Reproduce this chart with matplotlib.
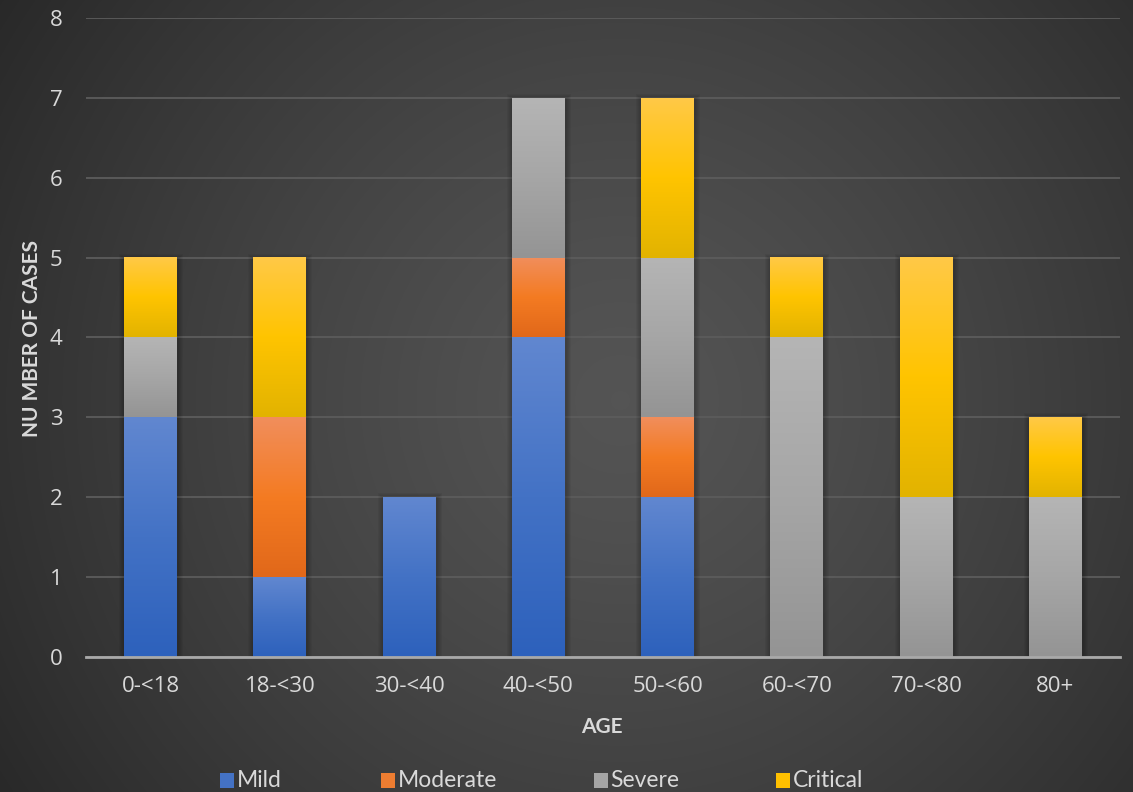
"""Stacked bar chart of case severity by age group on a dark radial background."""

import matplotlib

matplotlib.use("Agg")
import matplotlib.pyplot as plt
import numpy as np
from matplotlib.colors import LinearSegmentedColormap
from matplotlib.patches import Rectangle

AGE_GROUPS = ["0-<18", "18-<30", "30-<40", "40-<50", "50-<60", "60-<70", "70-<80", "80+"]
MILD = [3, 1, 2, 4, 2, 0, 0, 0]
MODERATE = [0, 2, 0, 1, 1, 0, 0, 0]
SEVERE = [1, 0, 0, 2, 2, 4, 2, 2]
CRITICAL = [1, 2, 0, 0, 2, 1, 3, 1]
SEVERITY = ["Mild", "Moderate", "Severe", "Critical"]
Y_TICKS = list(range(0, 9))

# bottom / middle / top colour of each segment's vertical gradient
GRADIENTS = {
    "Mild": ["#2d61bc", "#4372c5", "#6187d0"],
    "Moderate": ["#e1681a", "#f47b22", "#f18e5c"],
    "Severe": ["#949494", "#a6a6a6", "#b5b5b5"],
    "Critical": ["#e2b300", "#ffc400", "#ffc947"],
}
LEGEND_COLORS = {"Mild": "#4472c4", "Moderate": "#ed7d31", "Severe": "#a5a5a5", "Critical": "#ffc000"}

TEXT = "#d9d9d9"
BAR_WIDTH = 0.41

plt.rcParams["font.family"] = ["Lato", "DejaVu Sans"]

fig = plt.figure(figsize=(11.33, 7.92), dpi=100)

# radial background, lighter near the middle of the chart
bg = fig.add_axes([0, 0, 1, 1], zorder=-10)
yy, xx = np.mgrid[0:792, 0:1133]
cx, cy = 620, 400
r = np.hypot(xx - cx, yy - cy) / np.hypot(620, 400)
shade = 0.33 - 0.17 * np.clip(r, 0, 1) ** 1.3
bg.imshow(np.dstack([shade] * 3), extent=(0, 1, 0, 1), aspect="auto", origin="upper")
bg.set_axis_off()

ax = fig.add_axes([0.0759, 0.1705, 0.9126, 0.8068])
ax.set_facecolor("none")

x = np.arange(len(AGE_GROUPS))
series = {"Mild": MILD, "Moderate": MODERATE, "Severe": SEVERE, "Critical": CRITICAL}
bottom = np.zeros(len(AGE_GROUPS))
grad = np.linspace(0, 1, 256).reshape(-1, 1)

totals = np.sum([MILD, MODERATE, SEVERE, CRITICAL], axis=0)
px_x = 1 / 129.25
px_y = 1 / 79.9
# soft drop shadow around each full column
for xi, tot in zip(x, totals):
    for k in range(1, 6):
        ax.add_patch(Rectangle((xi - BAR_WIDTH / 2 - px_x * k, 0),
                               BAR_WIDTH + px_x * (2 * k + 1), tot + px_y * (k - 1),
                               facecolor="black", alpha=0.045, lw=0, zorder=2))

for name in SEVERITY:
    vals = np.array(series[name], dtype=float)
    cmap = LinearSegmentedColormap.from_list(name, GRADIENTS[name])
    bars = ax.bar(x, vals, bottom=bottom, width=BAR_WIDTH, alpha=0, zorder=3)
    for patch, v in zip(bars, vals):
        if v <= 0:
            continue
        x0, y0 = patch.get_x(), patch.get_y()
        ax.imshow(grad, cmap=cmap, origin="lower", aspect="auto", zorder=3,
                  extent=(x0, x0 + patch.get_width(), y0, y0 + patch.get_height()))
    bottom += vals

ax.set_xlim(-0.5, len(AGE_GROUPS) - 0.5)
ax.set_ylim(0, 8)
ax.set_xticks(x)
ax.set_xticklabels(AGE_GROUPS, family="Open Sans")
ax.set_yticks(Y_TICKS)
ax.set_yticklabels([str(t) for t in Y_TICKS], family="Open Sans")
ax.tick_params(axis="both", length=0, labelsize=16, colors=TEXT)
ax.tick_params(axis="y", pad=17)
ax.tick_params(axis="x", pad=14)
ax.grid(axis="y", color="#5c5c5c", lw=1.3, zorder=1)
ax.set_axisbelow(True)
for side in ["top", "right", "left"]:
    ax.spines[side].set_visible(False)
ax.spines["bottom"].set_color("#a9a9a9")
ax.spines["bottom"].set_linewidth(2)
ax.spines["bottom"].set_zorder(4)

fig.text(0.028, 0.573, "NU MBER OF CASES", rotation=90, ha="center", va="center",
         fontsize=15, fontweight="bold", color=TEXT)
fig.text(0.531, 0.082, "AGE", ha="center", va="center", fontsize=15,
         fontweight="bold", color=TEXT)

# legend row along the bottom edge
legend_x = [0.194, 0.336, 0.524, 0.685]
for lx, name in zip(legend_x, SEVERITY):
    fig.patches.append(Rectangle((lx, 0.005), 0.0125, 0.019, transform=fig.transFigure,
                                 facecolor=LEGEND_COLORS[name], lw=0))
    fig.text(lx + 0.0148, 0.015, name, ha="left", va="center", fontsize=16.5, color=TEXT)

fig.savefig("out.png", dpi=100)
